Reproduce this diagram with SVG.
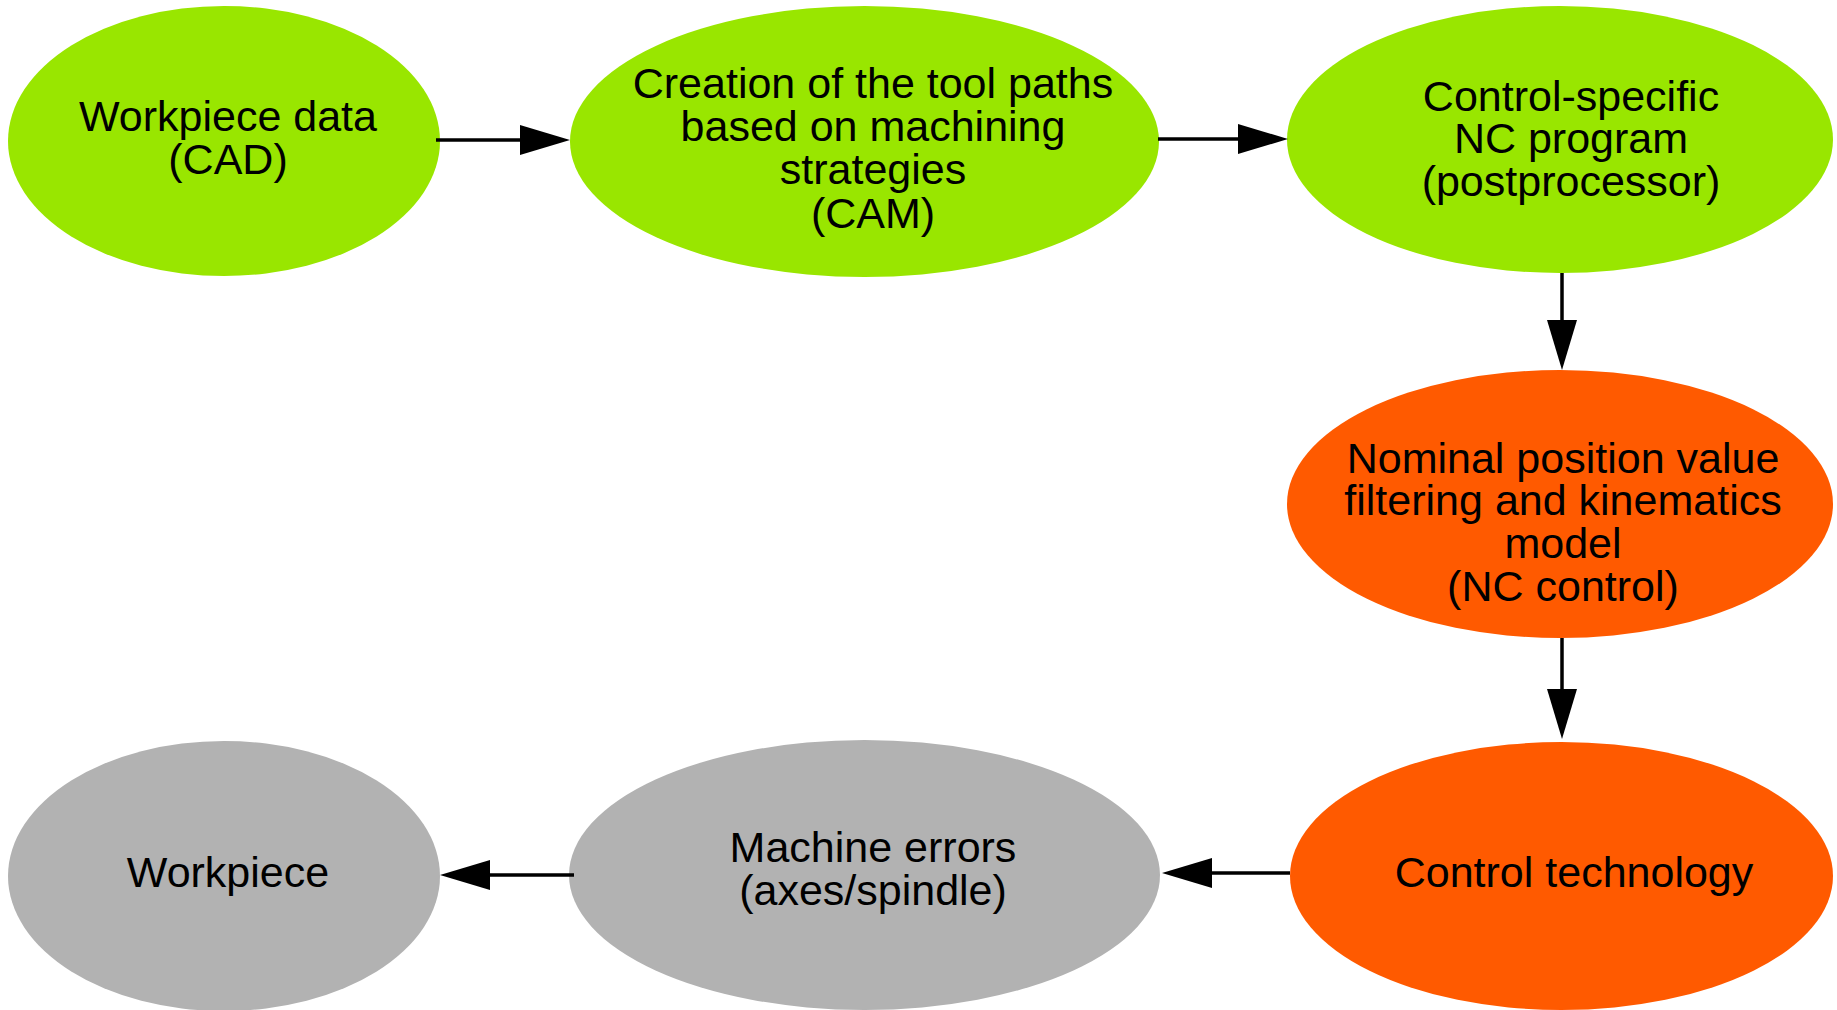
<svg xmlns="http://www.w3.org/2000/svg" width="1837" height="1010" viewBox="0 0 1837 1010">
<style>
.green{fill:#99e600}
.orange{fill:#ff5a00}
.gray{fill:#b2b2b2}
text{font-family:"Liberation Sans",Arial,sans-serif;font-size:43px;fill:#000;text-anchor:middle}
.conn{stroke:#000;stroke-width:3.5;fill:none;marker-end:url(#arrow)}
</style>
<defs>
<marker id="arrow" viewBox="0 0 50 30" refX="40" refY="15" markerWidth="50" markerHeight="30" markerUnits="userSpaceOnUse" orient="auto">
<path d="M0,0 L50,15 L0,30 z" fill="#000"/>
</marker>
</defs>
<rect width="1837" height="1010" fill="#fff"/>
<g id="n1">
<ellipse class="green" cx="224" cy="141" rx="216" ry="135"/>
<text x="228" y="131">Workpiece data</text>
<text x="228" y="174">(CAD)</text>
</g>
<g id="n2">
<ellipse class="green" cx="864.5" cy="141.5" rx="294.5" ry="135.5"/>
<text x="873" y="98">Creation of the tool paths</text>
<text x="873" y="141">based on machining</text>
<text x="873" y="184">strategies</text>
<text x="873" y="228">(CAM)</text>
</g>
<g id="n3">
<ellipse class="green" cx="1560" cy="139.5" rx="273" ry="133.5"/>
<text x="1571" y="111">Control-specific</text>
<text x="1571" y="153">NC program</text>
<text x="1571" y="196">(postprocessor)</text>
</g>
<g id="n4">
<ellipse class="orange" cx="1560" cy="504" rx="273" ry="134"/>
<text x="1563" y="473">Nominal position value</text>
<text x="1563" y="515">filtering and kinematics</text>
<text x="1563" y="558">model</text>
<text x="1563" y="601">(NC control)</text>
</g>
<g id="n5">
<ellipse class="orange" cx="1561.5" cy="876" rx="271.5" ry="134"/>
<text x="1574" y="887">Control technology</text>
</g>
<g id="n6">
<ellipse class="gray" cx="864.5" cy="875" rx="295.5" ry="135"/>
<text x="873" y="862">Machine errors</text>
<text x="873" y="905">(axes/spindle)</text>
</g>
<g id="n7">
<ellipse class="gray" cx="224" cy="876" rx="216" ry="135"/>
<text x="228" y="887">Workpiece</text>
</g>
<g id="connectors">
<line class="conn" x1="436" y1="140" x2="560" y2="140"/>
<line class="conn" x1="1158" y1="139" x2="1278" y2="139"/>
<line class="conn" x1="1562" y1="273" x2="1562" y2="360"/>
<line class="conn" x1="1562" y1="638" x2="1562" y2="729"/>
<line class="conn" x1="1290" y1="873" x2="1172" y2="873"/>
<line class="conn" x1="574" y1="875" x2="450" y2="875"/>
</g>
</svg>
